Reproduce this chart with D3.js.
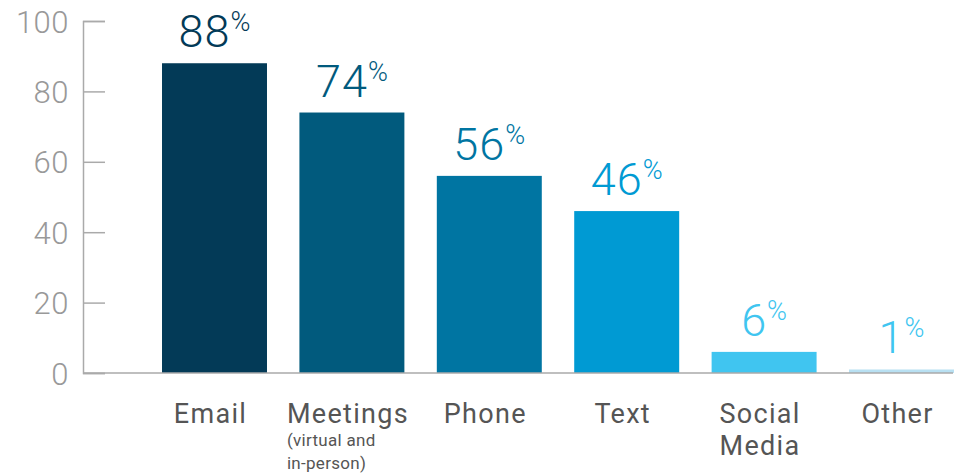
<!DOCTYPE html>
<html>
<head>
<meta charset="utf-8">
<script src="https://cdn.jsdelivr.net/npm/d3@7"></script>
<style>
  body { margin: 0; background: #fff; }
  text { font-family: Roboto, "Noto Sans", sans-serif; }
</style>
</head>
<body>
<script>
var categories = ["Email", "Meetings", "Phone", "Text", "Social Media", "Other"];
var values = [88, 74, 56, 46, 6, 1];
var labelLines = [["Email"], ["Meetings"], ["Phone"], ["Text"], ["Social", "Media"], ["Other"]];
var subLines = [[], ["(virtual and", "in-person)"], [], [], [], []];
var barColors = ["#033a57", "#015a7d", "#0075a2", "#009ad3", "#40c5f0", "#b8e0f2"];
var textColors = ["#033a57", "#015a7d", "#0075a2", "#009ad3", "#40c5f0", "#40c5f0"];
var yTicks = [0, 20, 40, 60, 80, 100];

var svg = d3.select("body")
  .append("svg")
  .attr("width", 960)
  .attr("height", 476);

var x = d3.scaleBand()
  .domain(categories)
  .range([145.8, 970.2])
  .paddingInner(0.236)
  .paddingOuter(0.118);

var y = d3.scaleLinear()
  .domain([0, 100])
  .range([373, 21]);

// y axis
var yAxis = d3.axisLeft(y)
  .tickValues(yTicks)
  .tickSize(-22)
  .tickPadding(14);

var gy = svg.append("g")
  .attr("transform", "translate(83,0)")
  .call(yAxis);
gy.select(".domain").attr("stroke", "#aaa").attr("stroke-width", 1.5);
gy.selectAll(".tick line").attr("stroke", "#aaa").attr("stroke-width", 1.5);
gy.selectAll(".tick text")
  .attr("fill", "#999")
  .style("font-size", "31px")
  .style("font-weight", 300)
  .style("letter-spacing", "0.5px")
  .attr("dy", "0.36em");

// bars
svg.selectAll("rect.bar")
  .data(categories)
  .enter()
  .append("rect")
    .attr("class", "bar")
    .attr("x", function(d) { return x(d); })
    .attr("y", function(d, i) { return y(values[i]); })
    .attr("width", x.bandwidth())
    .attr("height", function(d, i) { return y(0) - y(values[i]); })
    .style("fill", function(d, i) { return barColors[i]; });

// baseline
svg.append("line")
  .attr("x1", 83).attr("x2", 953)
  .attr("y1", y(0)).attr("y2", y(0))
  .attr("stroke", "#aaa").attr("stroke-width", 1.5);

// value labels
var vl = svg.selectAll("text.val")
  .data(categories)
  .enter()
  .append("text")
    .attr("class", "val")
    .attr("x", function(d) { return x(d) + x.bandwidth() / 2; })
    .attr("y", function(d, i) { return y(values[i]) - 16; })
    .attr("text-anchor", "middle")
    .style("fill", function(d, i) { return textColors[i]; });
vl.append("tspan")
  .style("font-size", "45px")
  .style("font-weight", 300)
  .style("letter-spacing", "1px")
  .text(function(d, i) { return values[i]; });
vl.append("tspan")
  .attr("dy", "-16")
  .style("font-size", "27px")
  .style("font-weight", 300)
  .text("%");

// category labels, left-aligned block centred on bar
categories.forEach(function(c, i) {
  var g = svg.append("g");
  var main = g.selectAll("text.cat")
    .data(labelLines[i])
    .enter()
    .append("text")
      .attr("class", "cat")
      .attr("x", 0)
      .attr("y", function(d, j) { return 423 + j * 32; })
      .style("font-size", "27px")
      .style("letter-spacing", "1.3px")
      .style("fill", "#555")
      .text(function(d) { return d; });
  g.selectAll("text.sub")
    .data(subLines[i])
    .enter()
    .append("text")
      .attr("class", "sub")
      .attr("x", 0)
      .attr("y", function(d, j) { return 446 + j * 23; })
      .style("font-size", "17px")
      .style("letter-spacing", "0.3px")
      .style("fill", "#555")
      .text(function(d) { return d; });
  var w = 0;
  main.each(function() { w = Math.max(w, this.getComputedTextLength()); });
  g.attr("transform", "translate(" + (x(c) + x.bandwidth() / 2 - w / 2 - 4) + ",0)");
});
</script>
</body>
</html>
